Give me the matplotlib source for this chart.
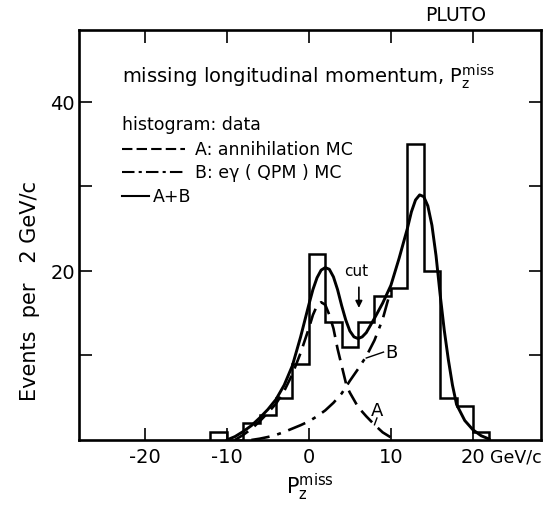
import numpy as np
import matplotlib
matplotlib.use("Agg")
import matplotlib.pyplot as plt

plt.rcParams['font.family'] = ['DejaVu Sans']
plt.rcParams['mathtext.default'] = 'regular'

# Histogram of the data: events per 2 GeV/c bin
bin_edges = [-12, -10, -8, -6, -4, -2, 0, 2, 4, 6, 8, 10, 12, 14, 16, 18, 20, 22]
counts = [1, 0, 2, 3, 5, 9, 22, 14, 11, 14, 17, 18, 35, 20, 5, 4, 1]

# A: annihilation MC
a_x = [-9, -8, -7, -6, -5, -4, -3, -2, -1, 0, 0.5, 1, 1.5, 2, 2.5, 3, 3.5, 4,
       4.6, 5, 6, 7, 8, 9, 10, 10.6]
a_y = [0.0, 0.6, 1.3, 2.2, 3.2, 4.3, 5.8, 7.8, 10.3, 13.2, 14.8, 15.9, 16.3,
       16.0, 14.8, 13.2, 10.8, 8.8, 6.4, 5.6, 3.9, 2.8, 1.8, 0.9, 0.3, 0.0]

# B: e-gamma (QPM) MC, low-side tail (merges with A+B above ~10 GeV/c)
b_x = [-7, -6, -5, -4, -3, -2, -1, 0, 1, 2, 3, 4, 4.6, 5, 6, 7, 8, 9, 10]
b_y = [0.0, 0.15, 0.35, 0.6, 0.95, 1.35, 1.75, 2.2, 2.8, 3.5, 4.4, 5.5, 6.4,
       7.0, 8.4, 9.9, 11.8, 14.3, 17.8]

# A+B
s_x = [-10, -9, -8, -7, -6, -5, -4, -3, -2, -1, 0, 0.5, 1, 1.5, 2, 2.5, 3,
       3.5, 4, 4.5, 5, 5.5, 6, 6.5, 7, 8, 9, 10, 11, 12, 12.5, 13, 13.5, 14,
       14.5, 15, 15.5, 16, 16.5, 17, 17.5, 18, 19, 20, 21, 22]
s_y = [0.0, 0.4, 1.0, 1.7, 2.6, 3.6, 4.8, 6.5, 8.8, 12.2, 16.0, 17.8, 19.2,
       20.1, 20.4, 20.2, 19.3, 17.8, 15.9, 14.2, 12.9, 12.2, 12.0, 12.2, 12.7,
       14.4, 16.2, 18.3, 21.5, 25.0, 27.0, 28.4, 29.0, 28.8, 27.7, 25.4, 21.8,
       17.2, 13.0, 9.5, 6.5, 4.2, 2.3, 1.2, 0.5, 0.1]

x_ticks = [-20, -10, 0, 10, 20]
x_ticklabels = ['-20', '-10', '0', '10', '20']
y_ticks = [10, 20, 30, 40]
y_ticklabels = ['', '20', '', '40']

fig = plt.figure(figsize=(5.43, 5.06), dpi=100)
ax = fig.add_axes([0.1455, 0.1285, 0.851, 0.810])

ax.stairs(counts, bin_edges, fill=False, color='black', lw=1.8, baseline=0)
ax.plot(s_x, s_y, color='black', lw=2.1, solid_capstyle='round')
ax.plot(a_x, a_y, color='black', lw=1.9, linestyle=(0, (6, 3)))
ax.plot(b_x, b_y, color='black', lw=1.9, linestyle=(0, (7, 3, 1.5, 3)))

ax.set_xlim(-28, 28.3)
ax.set_ylim(0, 48.5)

ax.set_xticks(x_ticks)
ax.set_xticklabels(x_ticklabels)
ax.set_yticks(y_ticks)
ax.set_yticklabels(y_ticklabels)
ax.tick_params(direction='in', length=9, width=1.2, top=True, right=True,
               labelsize=14, pad=5)
ax.tick_params(axis='y', pad=3)
for s in ax.spines.values():
    s.set_linewidth(1.9)

# unit next to the last x tick label
ax.annotate('GeV/c', xy=(22.1, 0), xycoords=ax.get_xaxis_transform(),
            xytext=(0, -5.5), textcoords='offset points',
            ha='left', va='top', fontsize=12.5)

fig.text(0.571, 0.005, r'$P_z^{miss}$', ha='center', va='bottom', fontsize=15)
fig.text(0.055, 0.425, 'Events  per   2 GeV/c', rotation=90, ha='center',
         va='center', fontsize=15)
fig.text(0.84, 0.97, 'PLUTO', ha='center', va='center', fontsize=13.5)

# header and key
ax.text(0.093, 0.888, r'missing longitudinal momentum, $P_z^{miss}$',
        transform=ax.transAxes, ha='left', va='center', fontsize=14)
ax.text(0.093, 0.771, 'histogram: data', transform=ax.transAxes,
        ha='left', va='center', fontsize=12.5)
ax.plot([0.093, 0.229], [0.710, 0.710], transform=ax.transAxes, color='black',
        lw=1.5, linestyle=(0, (5, 2)))
ax.text(0.250, 0.710, 'A: annihilation MC', transform=ax.transAxes,
        ha='left', va='center', fontsize=12.5)
ax.plot([0.093, 0.229], [0.654, 0.654], transform=ax.transAxes, color='black',
        lw=1.5, linestyle=(0, (6, 2, 1.5, 2)))
ax.text(0.250, 0.654, 'B: e\u03b3 ( QPM ) MC', transform=ax.transAxes,
        ha='left', va='center', fontsize=12.5)
ax.plot([0.093, 0.152], [0.595, 0.595], transform=ax.transAxes, color='black',
        lw=1.5)
ax.text(0.160, 0.595, 'A+B', transform=ax.transAxes,
        ha='left', va='center', fontsize=12.5)

# cut marker
ax.annotate('', xy=(6.1, 15.3), xytext=(6.1, 18.4),
            arrowprops=dict(arrowstyle='-|>', color='black', lw=1.2,
                            mutation_scale=10))
ax.text(5.8, 19.2, 'cut', ha='center', va='bottom', fontsize=11)

# curve labels
ax.text(9.3, 10.4, 'B', ha='left', va='center', fontsize=13)
ax.plot([7.0, 9.1], [9.7, 10.4], color='black', lw=1.0)
ax.text(8.3, 3.6, 'A', ha='center', va='center', fontsize=13)
ax.plot([8.3, 8.0], [2.6, 1.8], color='black', lw=1.0)

fig.savefig('out.png', dpi=100)
